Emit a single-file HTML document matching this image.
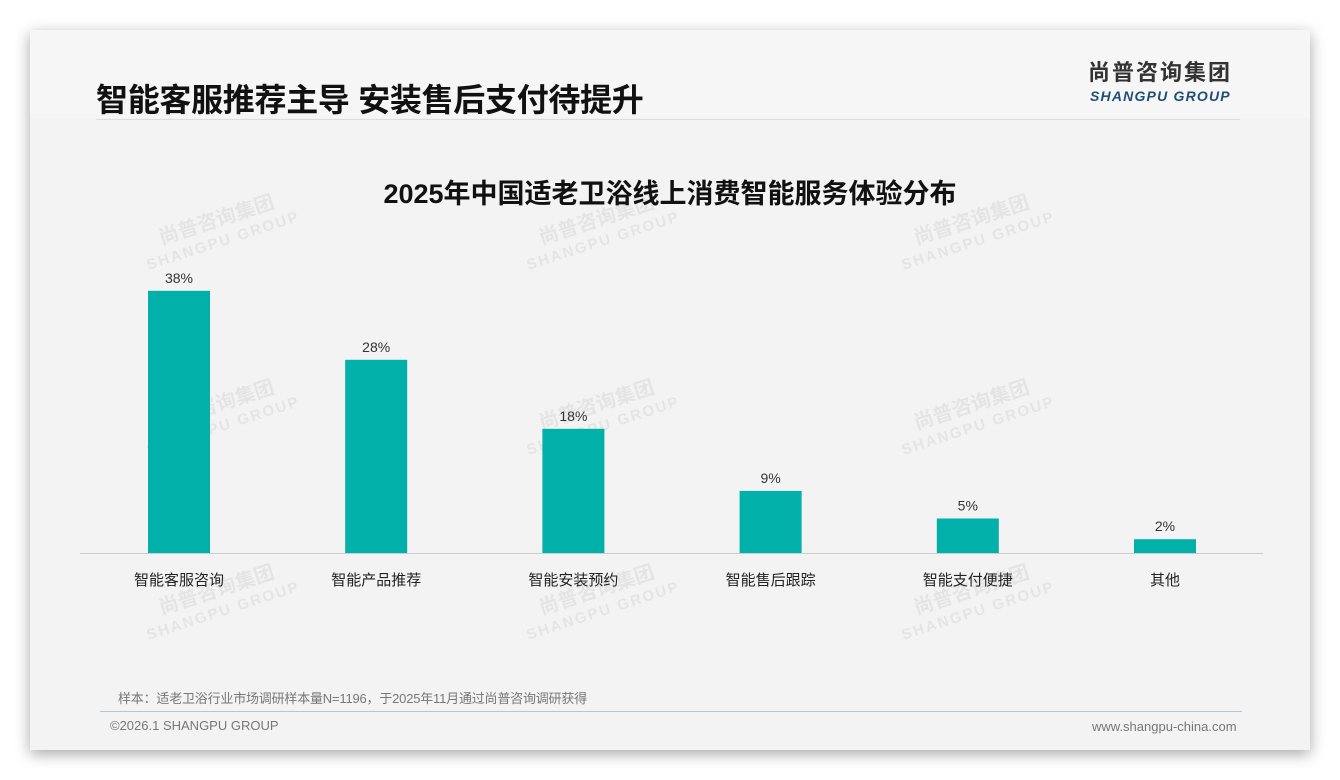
<!DOCTYPE html>
<html><head><meta charset="utf-8"><style>
body{margin:0;width:1340px;height:780px;background:#fff;font-family:"Liberation Sans","Noto Sans CJK SC",sans-serif;position:relative;overflow:hidden}
.card{position:absolute;left:30px;top:30px;width:1280px;height:720px;background:#f3f3f3;box-shadow:0 4px 14px rgba(0,0,0,.35)}
.abs{position:absolute}
.wm{position:absolute;color:rgba(0,0,0,0.06);font-weight:bold;transform:rotate(-18deg);font-size:20px;line-height:20px;text-align:center;white-space:nowrap}
</style></head><body>
<div class="card">
<div class="abs" style="left:0;top:0;width:1280px;height:88px;background:#f6f6f6"></div>
<div class="abs" style="left:66px;top:45px;font-size:32px;font-weight:bold;color:#111;letter-spacing:-0.3px">智能客服推荐主导 安装售后支付待提升</div>
<div class="abs" style="left:1058px;top:30px;font-size:22px;line-height:26px;font-weight:bold;color:#333;letter-spacing:2px">尚普咨询集团</div>
<div class="abs" style="left:1060px;top:58px;font-size:14px;line-height:16px;font-weight:bold;font-style:italic;color:#1f4e79;letter-spacing:1.2px">SHANGPU GROUP</div>
<div class="abs" style="left:66px;top:89px;width:1144px;height:1px;background:#ddd"></div>
<div class="abs" style="left:88px;top:658px;font-size:13px;color:#777;letter-spacing:-0.2px">样本：适老卫浴行业市场调研样本量N=1196，于2025年11月通过尚普咨询调研获得</div>
<div class="abs" style="left:70px;top:681px;width:1142px;height:1px;background:#b8c4d0"></div>
<div class="abs" style="left:80px;top:688px;font-size:13px;color:#777">©2026.1 SHANGPU GROUP</div>
<div class="abs" style="left:1062px;top:689px;font-size:13px;color:#777">www.shangpu-china.com</div>
</div>
<div id="wms"></div>
<svg id="chart" class="abs" style="left:0;top:0" width="1340" height="780">
<text x="670" y="203" text-anchor="middle" font-size="27" font-weight="bold" fill="#111">2025年中国适老卫浴线上消费智能服务体验分布</text>
<line x1="80" y1="553.5" x2="1263" y2="553.5" stroke="#ccc" stroke-width="1"/>
<g id="bars"></g>
</svg>
<script>
const categories=["智能客服咨询","智能产品推荐","智能安装预约","智能售后跟踪","智能支付便捷","其他"];
const values=[38,28,18,9,5,2];
const valueLabels=["38%","28%","18%","9%","5%","2%"];
const base=553,pxPer=6.9,bw=62;
function xc(i){return 179+i*197.2;}
function yv(v){return base-v*pxPer;}
const g=document.getElementById('bars');const NS='http://www.w3.org/2000/svg';
categories.forEach((c,i)=>{
 const r=document.createElementNS(NS,'rect');
 r.setAttribute('x',xc(i)-bw/2);r.setAttribute('y',yv(values[i]));r.setAttribute('width',bw);r.setAttribute('height',base-yv(values[i]));r.setAttribute('fill','#00b0a9');
 
 
 g.appendChild(r);
 const t=document.createElementNS(NS,'text');
 t.setAttribute('x',xc(i));t.setAttribute('y',yv(values[i])-8);t.setAttribute('text-anchor','middle');t.setAttribute('font-size','14');t.setAttribute('fill','#333');t.textContent=valueLabels[i];
 
 
 g.appendChild(t);
 const l=document.createElementNS(NS,'text');
 l.setAttribute('x',xc(i));l.setAttribute('y',585);l.setAttribute('text-anchor','middle');l.setAttribute('font-size','15');l.setAttribute('fill','#222');l.textContent=c;
 
 
 g.appendChild(l);
});
const wmPos=[[140,210],[520,210],[895,210],[140,395],[520,395],[895,395],[140,580],[520,580],[895,580]];
const wd=document.getElementById('wms');
wmPos.forEach(p=>{const d=document.createElement('div');d.className='wm';d.style.left=p[0]+'px';d.style.top=p[1]+'px';d.innerHTML='尚普咨询集团<br><span style="font-size:15px;letter-spacing:2px">SHANGPU GROUP</span>';


wd.appendChild(d);});
</script>
</body></html>
